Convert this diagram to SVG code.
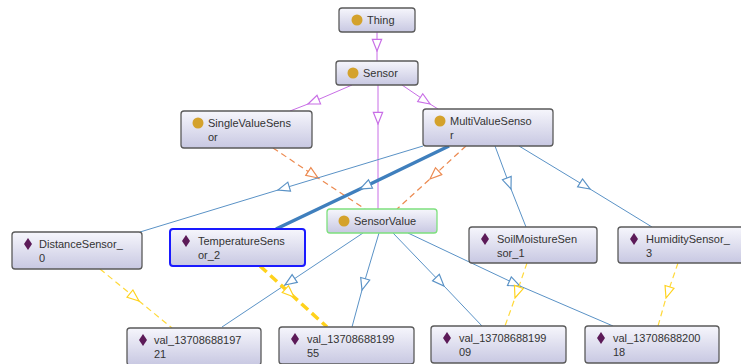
<svg xmlns="http://www.w3.org/2000/svg" width="741" height="364" viewBox="0 0 741 364">
<style>
.box{fill:url(#g);stroke:#5a5a5a;stroke-width:1.3}
.t{font-family:"Liberation Sans",Arial,sans-serif;font-size:11px;fill:#333}
.cls{fill:#d4a22c}
.ind{fill:#5c1a58}
.c{fill:none}
.p{stroke:#c86ee6;stroke-width:1;marker-mid:url(#ap)}
.b{stroke:#5a92c6;stroke-width:1;marker-mid:url(#ab)}
.bb{stroke:#3f7fbd;stroke-width:3.5;marker-mid:url(#ab)}
.o{stroke:#ec8a50;stroke-width:1.2;stroke-dasharray:6,4;marker-mid:url(#ao)}
.y{stroke:#ffd93a;stroke-width:1.2;stroke-dasharray:6,4;marker-mid:url(#ay)}
.yy{stroke:#ffd21c;stroke-width:3.5;stroke-dasharray:9,5;marker-mid:url(#ay)}
</style>
<defs>
<linearGradient id="g" x1="0" y1="0" x2="0" y2="1">
<stop offset="0" stop-color="#f6f6fc"/>
<stop offset="1" stop-color="#c8c8e2"/>
</linearGradient>
<marker id="ap" markerUnits="userSpaceOnUse" markerWidth="14" markerHeight="12" refX="11" refY="5" orient="auto" viewBox="0 0 12 10"><path d="M1,1 L11,5 L1,9 Z" fill="#fff" stroke="#c86ee6" stroke-width="1"/></marker>
<marker id="ab" markerUnits="userSpaceOnUse" markerWidth="14" markerHeight="12" refX="11" refY="5" orient="auto" viewBox="0 0 12 10"><path d="M1,1 L11,5 L1,9 Z" fill="#fff" stroke="#5a92c6" stroke-width="1"/></marker>
<marker id="ao" markerUnits="userSpaceOnUse" markerWidth="14" markerHeight="12" refX="11" refY="5" orient="auto" viewBox="0 0 12 10"><path d="M1,1 L11,5 L1,9 Z" fill="#fff" stroke="#ec8a50" stroke-width="1"/></marker>
<marker id="ay" markerUnits="userSpaceOnUse" markerWidth="14" markerHeight="12" refX="11" refY="5" orient="auto" viewBox="0 0 12 10"><path d="M1,1 L11,5 L1,9 Z" fill="#fff" stroke="#ffd21c" stroke-width="1"/></marker>
</defs>
<rect width="741" height="364" fill="#fff"/>
<g id="connectors" class="c">
<path class="c p" d="M377,32 L377,51 L377,61"/>
<path class="c p" d="M352,85 L308,104 L290,111"/>
<path class="c p" d="M402,85 L430,104 L438,109"/>
<path class="c p" d="M378,85 L378,124 L378,209"/>
<path class="c o" d="M273,148 L318,178 L365,209"/>
<path class="c o" d="M466,146 L430,179 L397,209"/>
<path class="c b" d="M423,146 L278,190 L140,232"/>
<path class="c bb" d="M449,146 L360,189 L276,229"/>
<path class="c b" d="M495,146 L511,189 L526,227"/>
<path class="c b" d="M519,146 L590,189 L652,227"/>
<path class="c b" d="M363,233 L285,285 L222,327"/>
<path class="c b" d="M379,233 L362,290 L352,327"/>
<path class="c b" d="M393,233 L444,286 L482,326"/>
<path class="c b" d="M408,233 L520,286 L613,326"/>
<path class="c y" d="M100,269 L139,301 L172,328"/>
<path class="c yy" d="M260,266 L294,297 L327,327"/>
<path class="c y" d="M527,263 L515,298 L505,326"/>
<path class="c y" d="M678,263 L666,298 L658,326"/>
</g>
<g id="Thing"><rect class="box" x="339" y="8" width="76" height="24" rx="3"/><circle class="cls" cx="357" cy="20" r="5.5"/><text class="t" x="367" y="24">Thing</text></g>
<g id="Sensor"><rect class="box" x="336" y="61" width="82" height="24" rx="3"/><circle class="cls" cx="353" cy="73" r="5.5"/><text class="t" x="363" y="77">Sensor</text></g>
<g id="SingleValueSensor"><rect class="box" x="181" y="111" width="131" height="37" rx="3"/><circle class="cls" cx="198" cy="123" r="5.5"/><text class="t" x="208" y="127">SingleValueSens</text><text class="t" x="208" y="141">or</text></g>
<g id="MultiValueSensor"><rect class="box" x="423" y="109" width="130" height="37" rx="3"/><circle class="cls" cx="440" cy="121" r="5.5"/><text class="t" x="450" y="125">MultiValueSenso</text><text class="t" x="450" y="139">r</text></g>
<g id="SensorValue"><rect class="box" x="327" y="209" width="110" height="24" rx="3" style="stroke:#7ee07e"/><circle class="cls" cx="344" cy="221" r="5.5"/><text class="t" x="354" y="225">SensorValue</text></g>
<g id="DistanceSensor_0"><rect class="box" x="12" y="232" width="130" height="37" rx="3"/><path class="ind" d="M28,238 L32,244 L28,250 L24,244 Z"/><text class="t" x="39" y="248">DistanceSensor_</text><text class="t" x="39" y="262">0</text></g>
<g id="TemperatureSensor_2"><rect class="box" x="170" y="229" width="135" height="37" rx="3" style="stroke:#1a1aff;stroke-width:2"/><path class="ind" d="M186,235 L190,241 L186,247 L182,241 Z"/><text class="t" x="198" y="245">TemperatureSens</text><text class="t" x="198" y="259">or_2</text></g>
<g id="SoilMoistureSensor_1"><rect class="box" x="469" y="227" width="128" height="36" rx="3"/><path class="ind" d="M485,233 L489,239 L485,245 L481,239 Z"/><text class="t" x="497" y="243">SoilMoistureSen</text><text class="t" x="497" y="257">sor_1</text></g>
<g id="HumiditySensor_3"><rect class="box" x="618" y="227" width="128" height="36" rx="3"/><path class="ind" d="M634,233 L638,239 L634,245 L630,239 Z"/><text class="t" x="646" y="243">HumiditySensor_</text><text class="t" x="646" y="257">3</text></g>
<g id="val_1370868819721"><rect class="box" x="127" y="328" width="134" height="37" rx="3"/><path class="ind" d="M143,334 L147,340 L143,346 L139,340 Z"/><text class="t" x="154" y="344">val_13708688197</text><text class="t" x="154" y="358">21</text></g>
<g id="val_1370868819955"><rect class="box" x="279" y="327" width="135" height="37" rx="3"/><path class="ind" d="M295,333 L299,339 L295,345 L291,339 Z"/><text class="t" x="307" y="343">val_13708688199</text><text class="t" x="307" y="357">55</text></g>
<g id="val_1370868819909"><rect class="box" x="431" y="326" width="135" height="37" rx="3"/><path class="ind" d="M447,332 L451,338 L447,344 L443,338 Z"/><text class="t" x="459" y="342">val_13708688199</text><text class="t" x="459" y="356">09</text></g>
<g id="val_1370868820018"><rect class="box" x="585" y="326" width="134" height="37" rx="3"/><path class="ind" d="M601,332 L605,338 L601,344 L597,338 Z"/><text class="t" x="613" y="342">val_13708688200</text><text class="t" x="613" y="356">18</text></g>
</svg>
